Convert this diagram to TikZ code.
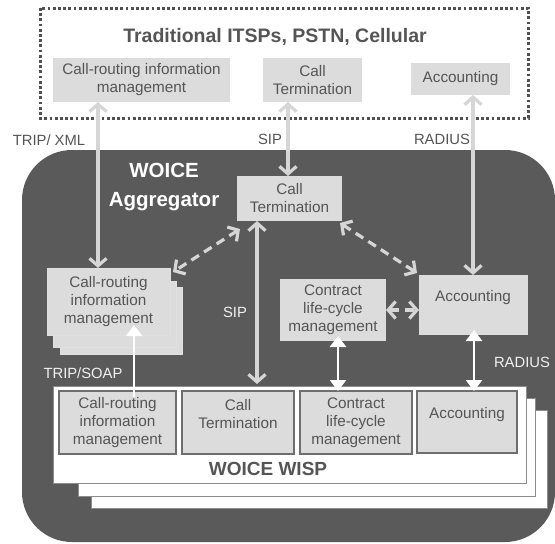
\documentclass[tikz,border=0pt]{standalone}
\usepackage{fontspec}
\setmainfont{Liberation Sans}
\usetikzlibrary{arrows.meta,calc}
\definecolor{darkbg}{HTML}{5A5A5A}
\definecolor{boxfill}{HTML}{DCDCDC}
\definecolor{txtgray}{HTML}{555555}
\definecolor{arrgray}{HTML}{D6D6D6}
\definecolor{bordergray}{HTML}{6E6E6E}
\definecolor{dotgray}{HTML}{505050}
\begin{document}
\begin{tikzpicture}[x=1pt,y=-1pt,
  every node/.style={inner sep=0pt,outer sep=0pt},
  txt/.style={font=\fontsize{15.3}{18}\selectfont,text=txtgray,align=center},
  lbl/.style={font=\fontsize{14.8}{18}\selectfont,text=txtgray},
  wlbl/.style={font=\fontsize{14.8}{18}\selectfont,text=white!94!black},
  plainbox/.style={fill=boxfill,draw=none,anchor=north west},
  stackbox/.style={fill=boxfill,draw=white!88!black,line width=0.8pt,anchor=north west},
  botbox/.style={fill=boxfill,draw=bordergray,line width=1.1pt,anchor=north west},
  wispbox/.style={fill=white,draw=black!45,line width=0.9pt,anchor=north west},
  garrow/.style={draw=arrgray,line width=3.2pt,
    {Straight Barb[length=7.5pt,width=17pt]}-{Straight Barb[length=7.5pt,width=17pt]}},
  dasharrow/.style={garrow,dash pattern=on 9pt off 6pt},
  wsingle/.style={draw=white,line width=2.8pt,-{Triangle[length=11pt,width=16pt]}},
  wdouble/.style={draw=white,line width=2.8pt,{Triangle[length=11pt,width=16pt]}-{Triangle[length=11pt,width=16pt]}}
]
\useasboundingbox (0,0) rectangle (555,544);
\fill[white] (0,0) rectangle (555,544);

% top dotted region
\draw[dotgray,line width=3pt,dash pattern=on 2.8pt off 2.4pt] (40,8) rectangle (528,118);
\node[font=\bfseries\fontsize{19.5}{22}\selectfont,text=txtgray] (title) at (275,37) {Traditional ITSPs, PSTN, Cellular};
\node[plainbox,minimum width=177pt,minimum height=44pt,txt] (topCR) at (53,58) {Call-routing information\\management};
\node[plainbox,minimum width=99pt,minimum height=44pt,txt] (topCT) at (263,58) {Call\\Termination};
\node[plainbox,minimum width=99pt,minimum height=32pt,txt] (topAcc) at (411,63) {Accounting};

\node[lbl] (lTRIPXML) at (49,140) {TRIP/ XML};
\node[lbl] (lSIPtop) at (270,139) {SIP};
\node[lbl] (lRADtop) at (442,139) {RADIUS};

% dark aggregator region
\fill[darkbg,rounded corners=50pt] (22,150) rectangle (555,542);
\node[font=\bfseries\fontsize{20.5}{29}\selectfont,text=white,align=center] (agg) at (164,187.5) {WOICE\\Aggregator};

% mid boxes
\node[plainbox,minimum width=105pt,minimum height=45pt,txt] (midCT) at (237,176) {Call\\Termination};
\node[stackbox,minimum width=122pt,minimum height=67pt] (midCRs2) at (60,287) {};
\node[stackbox,minimum width=123pt,minimum height=66pt] (midCRs1) at (53,281) {};
\node[stackbox,minimum width=123pt,minimum height=67pt,txt] (midCR) at (47,268) {Call-routing\\information\\management};
\node[plainbox,minimum width=106pt,minimum height=62pt,txt] (midCon) at (280,279) {Contract\\life-cycle\\management};
\node[plainbox,minimum width=109pt,minimum height=60pt] (midAcc) at (419,275) {};
\node[txt] (midAccT) at (473,298) {Accounting};

\node[wlbl] (lSIPmid) at (235,312) {SIP};
\node[wlbl] (lRADmid) at (522,362) {RADIUS};
\node[wlbl] (lTRIPSOAP) at (83,373) {TRIP/SOAP};

% WISP stack
\node[wispbox,minimum width=456pt,minimum height=98pt] (wisps2) at (91,410) {};
\node[wispbox,minimum width=457pt,minimum height=98pt] (wisps1) at (78,398) {};
\node[wispbox,minimum width=473pt,minimum height=97pt] (wisp) at (53,386) {};
\node[botbox,minimum width=117pt,minimum height=63pt,txt] (botCR) at (59,391) {Call-routing\\information\\management};
\node[botbox,minimum width=112pt,minimum height=63pt] (botCT) at (182,391) {};
\node[txt] (botCTT) at (238,414) {Call\\Termination};
\node[botbox,minimum width=112pt,minimum height=63pt,txt] (botCon) at (300,391) {Contract\\life-cycle\\management};
\node[botbox,minimum width=100pt,minimum height=62pt] (botAcc) at (417,391) {};
\node[txt] (botAccT) at (467,415) {Accounting};
\node[font=\bfseries\fontsize{19}{22}\selectfont,text=txtgray] (wispT) at (268,469) {WOICE WISP};

% x positions of connectors
\coordinate (xA) at (98,0);
\coordinate (xB) at (288,0);
\coordinate (xC) at (473,0);
\coordinate (xD) at (257,0);
\coordinate (xE) at (134,0);
\coordinate (xF) at (338,0);
\coordinate (xG) at (474,0);

% gray connectors
\draw[garrow] (topCR.south -| xA) -- (midCR.north -| xA);
\draw[garrow] (topCT.south -| xB) -- (midCT.north -| xB);
\draw[garrow] (topAcc.south -| xC) -- (midAcc.north -| xC);
\draw[garrow] (midCT.south -| xD) -- ([yshift=2pt]wisp.north -| xD);
\draw[dasharrow] ([xshift=3pt,yshift=-8pt]midCT.south west) -- ([xshift=3pt,yshift=-4pt]midCR.north east);
\draw[dasharrow] ([xshift=-2pt,yshift=-2pt]midCT.south east) -- ([xshift=-2pt,yshift=2pt]midAcc.north west);
\draw[dasharrow] (midCon.east) -- (midAcc.west |- midCon.east);

% white connectors
\draw[wsingle] ([yshift=-6pt]botCR.north -| xE) -- ([yshift=10pt]midCR.south -| xE);
\draw[wdouble] ([yshift=5pt]midCon.south -| xF) -- (botCon.north -| xF);
\draw[wdouble] ([yshift=5pt]midAcc.south -| xG) -- (botAcc.north -| xG);
\end{tikzpicture}
\end{document}
